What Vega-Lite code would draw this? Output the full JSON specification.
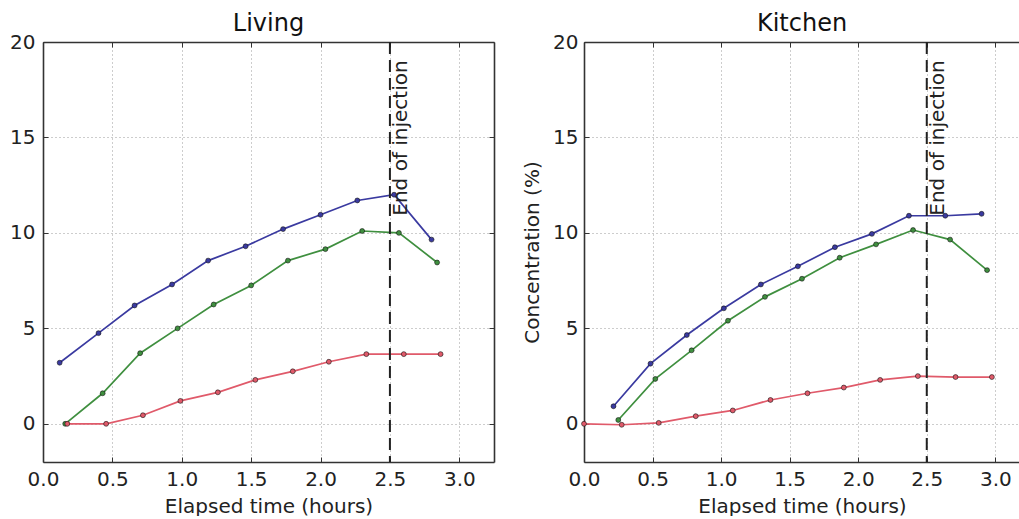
{
  "$schema": "https://vega.github.io/schema/vega-lite/v6.json",
  "padding": {"left": 9, "top": 12, "right": 0, "bottom": 0},
  "background": "white",
  "spacing": 27,
  "datasets": {
    "living": [
      {"series": "A", "t": 0.12, "c": 3.2}, {"series": "A", "t": 0.40, "c": 4.75}, {"series": "A", "t": 0.66, "c": 6.2}, {"series": "A", "t": 0.93, "c": 7.3}, {"series": "A", "t": 1.19, "c": 8.55}, {"series": "A", "t": 1.46, "c": 9.3}, {"series": "A", "t": 1.73, "c": 10.2}, {"series": "A", "t": 2.0, "c": 10.95}, {"series": "A", "t": 2.265, "c": 11.7}, {"series": "A", "t": 2.53, "c": 12.0}, {"series": "A", "t": 2.80, "c": 9.65},
      {"series": "B", "t": 0.16, "c": 0.0}, {"series": "B", "t": 0.43, "c": 1.6}, {"series": "B", "t": 0.70, "c": 3.7}, {"series": "B", "t": 0.97, "c": 5.0}, {"series": "B", "t": 1.23, "c": 6.25}, {"series": "B", "t": 1.50, "c": 7.25}, {"series": "B", "t": 1.765, "c": 8.55}, {"series": "B", "t": 2.035, "c": 9.15}, {"series": "B", "t": 2.30, "c": 10.1}, {"series": "B", "t": 2.565, "c": 10.0}, {"series": "B", "t": 2.84, "c": 8.45},
      {"series": "C", "t": 0.175, "c": 0.0}, {"series": "C", "t": 0.455, "c": 0.0}, {"series": "C", "t": 0.72, "c": 0.45}, {"series": "C", "t": 0.99, "c": 1.2}, {"series": "C", "t": 1.26, "c": 1.65}, {"series": "C", "t": 1.53, "c": 2.3}, {"series": "C", "t": 1.80, "c": 2.75}, {"series": "C", "t": 2.06, "c": 3.25}, {"series": "C", "t": 2.33, "c": 3.65}, {"series": "C", "t": 2.60, "c": 3.65}, {"series": "C", "t": 2.865, "c": 3.65}
    ],
    "kitchen": [
      {"series": "A", "t": 0.215, "c": 0.92}, {"series": "A", "t": 0.485, "c": 3.15}, {"series": "A", "t": 0.75, "c": 4.65}, {"series": "A", "t": 1.02, "c": 6.05}, {"series": "A", "t": 1.29, "c": 7.3}, {"series": "A", "t": 1.56, "c": 8.25}, {"series": "A", "t": 1.83, "c": 9.25}, {"series": "A", "t": 2.10, "c": 9.95}, {"series": "A", "t": 2.37, "c": 10.9}, {"series": "A", "t": 2.635, "c": 10.9}, {"series": "A", "t": 2.90, "c": 11.0},
      {"series": "B", "t": 0.25, "c": 0.2}, {"series": "B", "t": 0.52, "c": 2.35}, {"series": "B", "t": 0.785, "c": 3.85}, {"series": "B", "t": 1.05, "c": 5.4}, {"series": "B", "t": 1.32, "c": 6.65}, {"series": "B", "t": 1.59, "c": 7.6}, {"series": "B", "t": 1.865, "c": 8.7}, {"series": "B", "t": 2.13, "c": 9.4}, {"series": "B", "t": 2.40, "c": 10.15}, {"series": "B", "t": 2.67, "c": 9.65}, {"series": "B", "t": 2.94, "c": 8.05},
      {"series": "C", "t": 0.0, "c": 0.0}, {"series": "C", "t": 0.275, "c": -0.05}, {"series": "C", "t": 0.545, "c": 0.05}, {"series": "C", "t": 0.815, "c": 0.4}, {"series": "C", "t": 1.085, "c": 0.7}, {"series": "C", "t": 1.36, "c": 1.25}, {"series": "C", "t": 1.63, "c": 1.6}, {"series": "C", "t": 1.895, "c": 1.9}, {"series": "C", "t": 2.16, "c": 2.3}, {"series": "C", "t": 2.435, "c": 2.5}, {"series": "C", "t": 2.71, "c": 2.45}, {"series": "C", "t": 2.975, "c": 2.45}
    ],
    "marker": [{"t": 2.5, "c": 10.9, "label": "End of injection"}]
  },
  "hconcat": [
    {
      "title": "Living",
      "width": 451,
      "height": 420,
      "view": {"stroke": null},
      "resolve": {"axis": {"x": "independent", "y": "independent"}},
      "layer": [
        {
          "data": {"name": "living"},
          "mark": {"type": "line", "strokeWidth": 1.7, "point": {"filled": true, "size": 24, "stroke": "#111", "strokeWidth": 0.6}},
          "encoding": {
            "x": {"field": "t", "type": "quantitative", "scale": {"domain": [0, 3.25], "nice": false, "zero": false},
                  "axis": {"values": [0, 0.5, 1, 1.5, 2, 2.5, 3], "format": ".1f", "title": "Elapsed time (hours)", "labelFlush": false, "labelPadding": 12, "titlePadding": 7}},
            "y": {"field": "c", "type": "quantitative", "scale": {"domain": [-2, 20], "nice": false},
                  "axis": {"values": [0, 5, 10, 15, 20], "title": null, "labelPadding": 13, "labelFlush": false}},
            "color": {"field": "series", "type": "nominal", "legend": null,
                      "scale": {"domain": ["A", "B", "C"], "range": ["#3a3aa0", "#3f8f3f", "#e05a6a"]}}
          }
        },
        {
          "data": {"name": "marker"},
          "mark": {"type": "rule", "color": "#222", "strokeWidth": 2, "strokeDash": [12, 6]},
          "encoding": {"x": {"field": "t", "type": "quantitative",
                             "axis": {"orient": "top", "values": [0, 0.5, 1, 1.5, 2, 2.5, 3], "labels": false, "title": null, "grid": false}}}
        },
        {
          "data": {"name": "marker"},
          "mark": {"type": "text", "angle": 270, "align": "left", "baseline": "top", "fontSize": 20, "color": "#222", "dy": 1},
          "encoding": {
            "x": {"field": "t", "type": "quantitative", "axis": null},
            "y": {"field": "c", "type": "quantitative",
                  "axis": {"orient": "right", "values": [0, 5, 10, 15, 20], "labels": false, "title": null, "grid": false}},
            "text": {"field": "label"}
          }
        }
      ]
    },
    {
      "title": "Kitchen",
      "width": 436,
      "height": 420,
      "view": {"stroke": null},
      "resolve": {"axis": {"x": "independent", "y": "independent"}},
      "layer": [
        {
          "data": {"name": "kitchen"},
          "mark": {"type": "line", "strokeWidth": 1.7, "point": {"filled": true, "size": 24, "stroke": "#111", "strokeWidth": 0.6}},
          "encoding": {
            "x": {"field": "t", "type": "quantitative", "scale": {"domain": [0, 3.18], "nice": false, "zero": false},
                  "axis": {"values": [0, 0.5, 1, 1.5, 2, 2.5, 3], "format": ".1f", "title": "Elapsed time (hours)", "labelFlush": false, "labelPadding": 12, "titlePadding": 7}},
            "y": {"field": "c", "type": "quantitative", "scale": {"domain": [-2, 20], "nice": false},
                  "axis": {"values": [0, 5, 10, 15, 20], "title": "Concentration (%)", "labelPadding": 11, "titlePadding": 10, "labelFlush": false}},
            "color": {"field": "series", "type": "nominal", "legend": null,
                      "scale": {"domain": ["A", "B", "C"], "range": ["#3a3aa0", "#3f8f3f", "#e05a6a"]}}
          }
        },
        {
          "data": {"name": "marker"},
          "mark": {"type": "rule", "color": "#222", "strokeWidth": 2, "strokeDash": [12, 6]},
          "encoding": {"x": {"field": "t", "type": "quantitative",
                             "axis": {"orient": "top", "values": [0, 0.5, 1, 1.5, 2, 2.5, 3], "labels": false, "title": null, "grid": false}}}
        },
        {
          "data": {"name": "marker"},
          "mark": {"type": "text", "angle": 270, "align": "left", "baseline": "top", "fontSize": 20, "color": "#222", "dy": 1},
          "encoding": {
            "x": {"field": "t", "type": "quantitative", "axis": null},
            "y": {"field": "c", "type": "quantitative", "axis": null},
            "text": {"field": "label"}
          }
        }
      ]
    }
  ],
  "config": {
    "font": "DejaVu Sans",
    "axis": {
      "grid": true,
      "gridColor": "#9a9a9a",
      "gridDash": [1, 3],
      "gridWidth": 1,
      "domain": true,
      "domainColor": "#333",
      "domainWidth": 1.6,
      "ticks": true,
      "tickColor": "#333",
      "tickSize": -5,
      "labelFontSize": 20,
      "labelColor": "#222",
      "labelPadding": 12,
      "titleFontSize": 20,
      "titleFontWeight": "normal",
      "titleColor": "#222",
      "titlePadding": 5
    },
    "title": {"fontSize": 24, "fontWeight": "normal", "color": "#111", "offset": -4}
  }
}
